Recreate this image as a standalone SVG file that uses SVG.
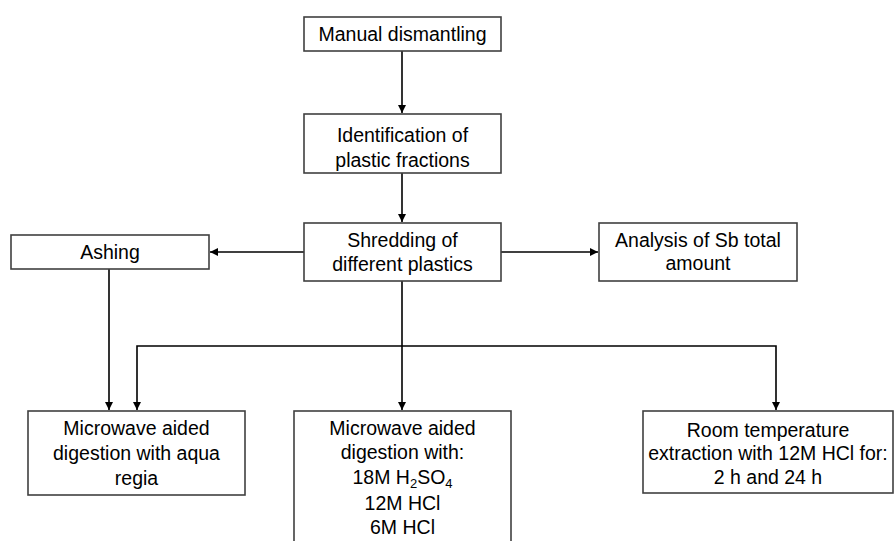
<svg xmlns="http://www.w3.org/2000/svg" width="894" height="541" viewBox="0 0 894 541">
<style>
.box{fill:#fff;stroke:#404040;stroke-width:1.6}
.t{font-family:"Liberation Sans",Arial,sans-serif;font-size:19.5px;fill:#000;text-anchor:middle}
.c{fill:none;stroke:#000;stroke-width:1.6}
</style>
<defs>
<marker id="ah" viewBox="0 0 10 10" refX="10" refY="5" markerWidth="5" markerHeight="5" orient="auto" markerUnits="strokeWidth">
<path d="M0,0 L10,5 L0,10 z" fill="#000"/>
</marker>
</defs>
<rect width="894" height="541" fill="#fff"/>
<g id="connectors">
<line class="c" x1="402" y1="51" x2="402" y2="113" marker-end="url(#ah)"/>
<line class="c" x1="402" y1="173" x2="402" y2="222" marker-end="url(#ah)"/>
<line class="c" x1="304" y1="252" x2="210" y2="252" marker-end="url(#ah)"/>
<line class="c" x1="501" y1="252" x2="598" y2="252" marker-end="url(#ah)"/>
<line class="c" x1="109" y1="269" x2="109" y2="410" marker-end="url(#ah)"/>
<line class="c" x1="402" y1="281" x2="402" y2="410" marker-end="url(#ah)"/>
<path class="c" d="M402,346 H137 V410" marker-end="url(#ah)"/>
<path class="c" d="M402,346 H776 V410" marker-end="url(#ah)"/>
</g>
<g id="manual">
<rect class="box" x="304" y="17" width="197" height="34"/>
<text class="t" x="402.5" y="41">Manual dismantling</text>
</g>
<g id="identification">
<rect class="box" x="304" y="114" width="197" height="59"/>
<text class="t" x="402.5" y="142">Identification of</text>
<text class="t" x="402.5" y="167">plastic fractions</text>
</g>
<g id="shredding">
<rect class="box" x="304" y="223" width="197" height="58"/>
<text class="t" x="402.5" y="247">Shredding of</text>
<text class="t" x="402.5" y="271">different plastics</text>
</g>
<g id="ashing">
<rect class="box" x="11" y="235" width="198" height="34"/>
<text class="t" x="110" y="259">Ashing</text>
</g>
<g id="analysis">
<rect class="box" x="599" y="223" width="198" height="58"/>
<text class="t" x="698" y="247">Analysis of Sb total</text>
<text class="t" x="698" y="270">amount</text>
</g>
<g id="aqua">
<rect class="box" x="28" y="411" width="217" height="84"/>
<text class="t" x="136.5" y="435">Microwave aided</text>
<text class="t" x="136.5" y="460">digestion with aqua</text>
<text class="t" x="136.5" y="485">regia</text>
</g>
<g id="acids">
<rect class="box" x="294" y="411" width="217" height="140"/>
<text class="t" x="402.5" y="435">Microwave aided</text>
<text class="t" x="402.5" y="459">digestion with:</text>
<text class="t" x="402.5" y="484">18M H<tspan font-size="13" dy="4">2</tspan><tspan dy="-4">SO</tspan><tspan font-size="13" dy="4">4</tspan></text>
<text class="t" x="402.5" y="510">12M HCl</text>
<text class="t" x="402.5" y="534">6M HCl</text>
</g>
<g id="room">
<rect class="box" x="643" y="411" width="250" height="82"/>
<text class="t" x="768" y="437">Room temperature</text>
<text class="t" x="768" y="460">extraction with 12M HCl for:</text>
<text class="t" x="768" y="484">2 h and 24 h</text>
</g>
</svg>
